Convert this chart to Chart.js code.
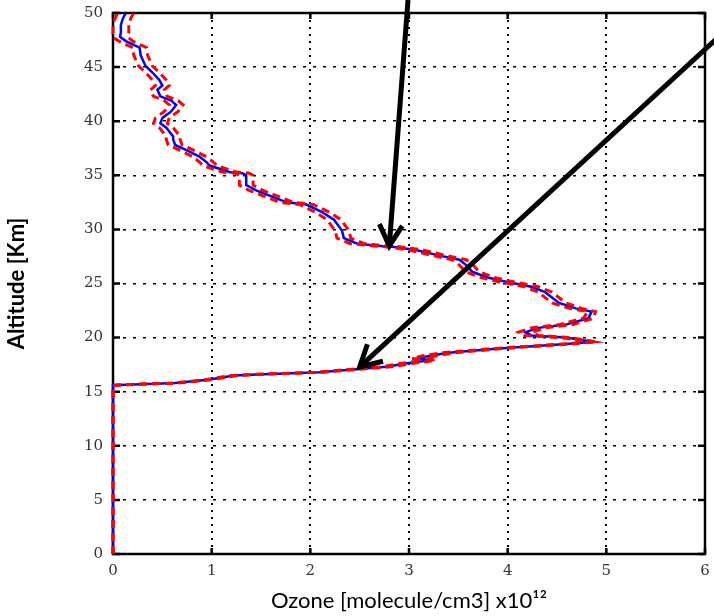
<!DOCTYPE html>
<html>
<head>
<meta charset="utf-8">
<script src="https://cdn.jsdelivr.net/npm/chart.js@4/dist/chart.umd.min.js"></script>
<style>
    body { margin: 0; background: #fff; }
</style>
</head>
<body>
<canvas id="ozoneChart" width="714" height="616"></canvas>
<script>
// altitude in km, ozone in 1e12 molecule/cm3
const altitude = [0, 15.6, 15.7, 15.8, 16.1, 16.5, 16.6, 16.8, 17.1, 17.3, 17.6, 17.9, 18.1, 18.3, 18.6, 19.0,
    19.4, 19.6, 20.0, 20.2, 20.5, 20.9, 21.2, 21.8, 22.4, 22.7, 23.2, 24.2, 24.7, 25.3, 25.6, 26.1,
    26.7, 27.2, 27.6, 28.1, 28.4, 28.5, 28.7, 29.2, 29.9, 30.9, 31.6, 32.3, 32.5, 33.0, 33.6, 34.1,
    35.0, 35.2, 35.3, 35.9, 36.2, 36.7, 37.3, 37.8, 38.3, 38.6, 39.4, 39.8, 40.3, 40.9, 41.5, 41.9,
    42.3, 42.9, 43.3, 43.8, 44.5, 45.1, 46.1, 46.8, 47.0, 47.4, 47.8, 48.2, 48.9, 49.5, 50.0];
const ozone = [0, 0, 0.28, 0.63, 0.96, 1.23, 1.46, 2.09, 2.49, 2.77, 2.97, 3.2, 3.1, 3.2, 3.40, 3.91,
    4.59, 4.87, 4.59, 4.24, 4.18, 4.31, 4.59, 4.82, 4.85, 4.69, 4.52, 4.38, 4.24, 3.91, 3.78, 3.64,
    3.58, 3.51, 3.30, 3.07, 2.83, 2.67, 2.47, 2.34, 2.32, 2.24, 2.12, 1.96, 1.76, 1.62, 1.45, 1.35,
    1.35, 1.31, 1.18, 0.98, 0.95, 0.88, 0.75, 0.63, 0.61, 0.61, 0.54, 0.48, 0.50, 0.59, 0.64, 0.59,
    0.48, 0.45, 0.50, 0.47, 0.40, 0.33, 0.28, 0.27, 0.22, 0.13, 0.07, 0.08, 0.08, 0.10, 0.13];
// spread of the red dashed curves around the profile
const ozoneErr = [0, 0, 0.03, 0.03, 0.03, 0.03, 0.03, 0.04, 0.04, 0.05, 0.06, 0.07, 0.07, 0.07, 0.07, 0.05,
    0.04, 0.03, 0.05, 0.07, 0.07, 0.07, 0.07, 0.05, 0.04, 0.06, 0.07, 0.07, 0.07, 0.07, 0.07, 0.07,
    0.07, 0.07, 0.07, 0.07, 0.07, 0.07, 0.07, 0.07, 0.07, 0.07, 0.07, 0.07, 0.07, 0.07, 0.07, 0.07,
    0.07, 0.07, 0.07, 0.07, 0.07, 0.07, 0.07, 0.07, 0.07, 0.07, 0.07, 0.07, 0.07, 0.07, 0.07, 0.07,
    0.07, 0.07, 0.07, 0.07, 0.07, 0.07, 0.07, 0.07, 0.07, 0.07, 0.08, 0.08, 0.08, 0.08, 0.08];
const xTicks = [0, 1, 2, 3, 4, 5, 6];
const yTicks = [0, 5, 10, 15, 20, 25, 30, 35, 40, 45, 50];
// arrows [fromX, fromY, toX, toY] in data units
const arrows = [
    [2.99, 51.2, 2.80, 28.47],
    [6.15, 47.9, 2.50, 17.28]
];

const profile = ozone.map((v, i) => ({ x: v, y: altitude[i] }));
const upper = ozone.map((v, i) => ({ x: v + ozoneErr[i], y: altitude[i] }));
const lower = ozone.map((v, i) => ({ x: v - ozoneErr[i], y: altitude[i] }));

// box around the plot with inward ticks, under the curves
const framePlugin = {
    id: 'frame',
    beforeDatasetsDraw(chart) {
        const { ctx, chartArea: a, scales } = chart;
        ctx.save();
        ctx.strokeStyle = '#000';
        ctx.lineWidth = 2.5;
        ctx.strokeRect(a.left, a.top, a.right - a.left, a.bottom - a.top);
        ctx.beginPath();
        xTicks.forEach((t) => {
            const px = scales.x.getPixelForValue(t);
            ctx.moveTo(px, a.bottom); ctx.lineTo(px, a.bottom - 6);
            ctx.moveTo(px, a.top); ctx.lineTo(px, a.top + 6);
        });
        yTicks.forEach((t) => {
            const py = scales.y.getPixelForValue(t);
            ctx.moveTo(a.left, py); ctx.lineTo(a.left + 7, py);
            ctx.moveTo(a.right, py); ctx.lineTo(a.right - 7, py);
        });
        ctx.stroke();
        ctx.restore();
    }
};

const arrowPlugin = {
    id: 'arrows',
    afterDraw(chart) {
        const { ctx, scales } = chart;
        ctx.save();
        ctx.strokeStyle = '#000';
        arrows.forEach((ar) => {
            const x1 = scales.x.getPixelForValue(ar[0]);
            const y1 = scales.y.getPixelForValue(ar[1]);
            const x2 = scales.x.getPixelForValue(ar[2]);
            const y2 = scales.y.getPixelForValue(ar[3]);
            const ang = Math.atan2(y2 - y1, x2 - x1);
            ctx.lineWidth = 5;
            ctx.beginPath();
            ctx.moveTo(x1, y1);
            ctx.lineTo(x2 - Math.cos(ang) * 2, y2 - Math.sin(ang) * 2);
            ctx.stroke();
            ctx.lineJoin = 'miter';
            ctx.beginPath();
            ctx.moveTo(x2 - 24 * Math.cos(ang - 0.5), y2 - 24 * Math.sin(ang - 0.5));
            ctx.lineTo(x2, y2);
            ctx.lineTo(x2 - 24 * Math.cos(ang + 0.5), y2 - 24 * Math.sin(ang + 0.5));
            ctx.stroke();
        });
        ctx.restore();
    }
};

const tickFont = { family: 'DejaVu Serif', size: 15 };

new Chart(document.getElementById('ozoneChart'), {
    type: 'scatter',
    data: {
        datasets: [
            {
                label: 'upper',
                data: upper,
                showLine: true,
                borderColor: '#ff0000',
                borderWidth: 3,
                borderDash: [8, 5],
                pointRadius: 0,
                clip: false,
                order: 0
            },
            {
                label: 'lower',
                data: lower,
                showLine: true,
                borderColor: '#ff0000',
                borderWidth: 3,
                borderDash: [8, 5],
                pointRadius: 0,
                clip: false,
                order: 0
            },
            {
                label: 'ozone',
                data: profile,
                showLine: true,
                borderColor: '#0000ff',
                borderWidth: 2.5,
                pointRadius: 0,
                clip: false,
                order: 1
            }
        ]
    },
    options: {
        responsive: false,
        animation: false,
        layout: { padding: { top: 13, right: 9, left: 0, bottom: 0 } },
        scales: {
            x: {
                type: 'linear',
                min: 0,
                max: 6,
                afterFit: (s) => { s.height = 62; s.paddingLeft = 0; s.paddingRight = 0; },
                afterBuildTicks: (s) => { s.ticks = xTicks.map((v) => ({ value: v })); },
                grid: { color: '#000', lineWidth: 2, drawTicks: false },
                border: { display: false, dash: [2, 5] },
                ticks: { color: '#333', font: tickFont, padding: 8 },
                title: {
                    display: true,
                    text: 'Ozone [molecule/cm3] x10¹²',
                    color: '#000',
                    font: { family: 'Lato', size: 22 },
                    padding: { top: 2, bottom: 2 }
                }
            },
            y: {
                type: 'linear',
                min: 0,
                max: 50,
                afterFit: (s) => { s.width = 113; s.paddingTop = 0; s.paddingBottom = 0; },
                afterBuildTicks: (s) => { s.ticks = yTicks.map((v) => ({ value: v })); },
                grid: { color: '#000', lineWidth: 1.5, drawTicks: false },
                border: { display: false, dash: [3, 7] },
                ticks: { color: '#333', font: tickFont, padding: 10 },
                title: {
                    display: true,
                    text: 'Altitude [Km]',
                    color: '#000',
                    font: { family: 'Lato', size: 22, weight: 'bold' },
                    padding: { top: 4, bottom: 0 }
                }
            }
        },
        plugins: {
            legend: { display: false },
            tooltip: { enabled: false }
        }
    },
    plugins: [framePlugin, arrowPlugin]
});
</script>
</body>
</html>
